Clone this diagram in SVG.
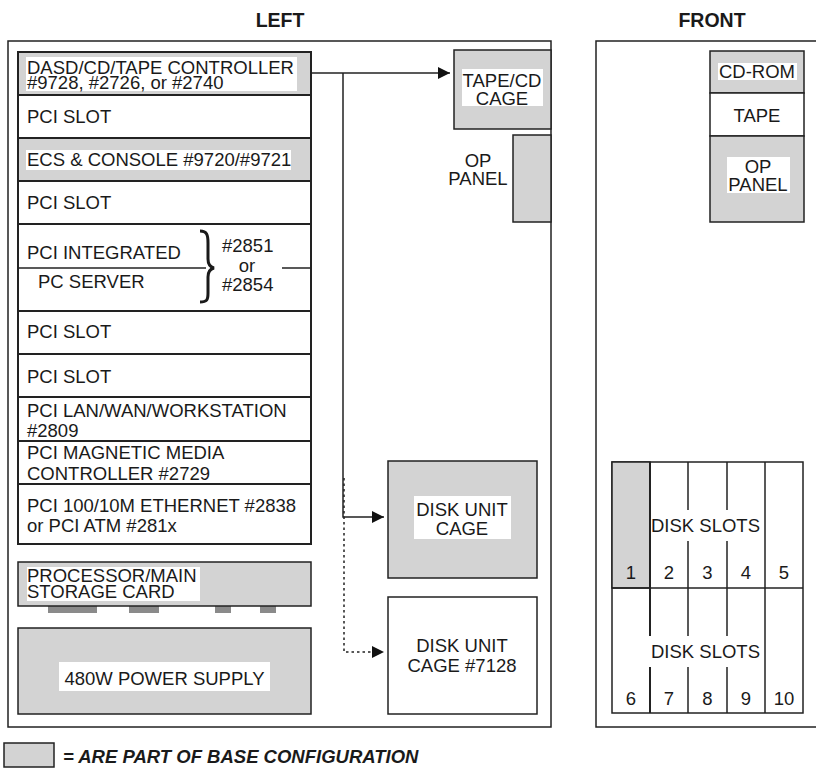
<svg xmlns="http://www.w3.org/2000/svg" width="816" height="768" viewBox="0 0 816 768">
<defs>
<style>
text { font-family: "Liberation Sans", Arial, sans-serif; font-size: 18.5px; fill: #1a1a1a; }
.title { font-weight: bold; font-size: 19.5px; text-anchor: middle; }
.mid { text-anchor: middle; }
.box { stroke: #222; stroke-width: 1.5; fill: #fff; }
.gray { stroke: #222; stroke-width: 1.5; fill: #d3d3d3; }
.row { stroke: #222; stroke-width: 2; fill: #fff; }
.rowg { stroke: #222; stroke-width: 2; fill: #d3d3d3; }
.bg { fill: #fff; stroke: none; }
.ln { stroke: #222; stroke-width: 1.5; fill: none; }
.conn { stroke: #222; stroke-width: 1.5; fill: none; }
.dot { stroke-dasharray: 2.5 3; }
.tab { fill: #8a8a8a; }
.legend { font-weight: bold; font-style: italic; }
</style>
<marker id="arr" viewBox="0 0 10 10" refX="10" refY="5" markerWidth="13" markerHeight="12" markerUnits="userSpaceOnUse" orient="auto">
<path d="M0,0 L10,5 L0,10 z" fill="#111"/>
</marker>
</defs>

<g id="titles">
<text class="title" x="280" y="27">LEFT</text>
<text class="title" x="712" y="27">FRONT</text>
</g>

<g id="left-frame"><rect class="box" x="8" y="41" width="543" height="686"/></g>
<g id="front-frame"><rect class="box" x="596" y="41" width="240" height="686"/></g>

<g id="slot-dasd">
<rect class="rowg" x="18" y="52" width="293" height="43"/>
<rect class="bg" x="26" y="57" width="271" height="34"/>
<text x="27" y="74">DASD/CD/TAPE CONTROLLER</text>
<text x="27" y="89">#9728, #2726, or #2740</text>
</g>
<g id="slot-2">
<rect class="row" x="18" y="95" width="293" height="43"/>
<text x="27" y="123">PCI SLOT</text>
</g>
<g id="slot-ecs">
<rect class="rowg" x="18" y="138" width="293" height="43"/>
<rect class="bg" x="26" y="150" width="265" height="20"/>
<text x="27" y="166">ECS &amp; CONSOLE #9720/#9721</text>
</g>
<g id="slot-4">
<rect class="row" x="18" y="181" width="293" height="43"/>
<text x="27" y="209">PCI SLOT</text>
</g>
<g id="slot-ipcs">
<rect class="row" x="18" y="224" width="293" height="87"/>
<line class="ln" x1="18" y1="268" x2="206" y2="268"/>
<line class="ln" x1="282" y1="268" x2="311" y2="268"/>
<path d="M200,231 C207,231 208,235 208,243 L208,259 C208,264 210,267 214,268 C210,269 208,272 208,277 L208,293 C208,300 207,302 200,302" fill="none" stroke="#1a1a1a" stroke-width="3"/>
<text x="27" y="259">PCI INTEGRATED</text>
<text x="38" y="288">PC SERVER</text>
<text x="222" y="252">#2851</text>
<text class="mid" x="247" y="272">or</text>
<text x="222" y="291">#2854</text>
</g>
<g id="slot-6">
<rect class="row" x="18" y="311" width="293" height="43"/>
<text x="27" y="338">PCI SLOT</text>
</g>
<g id="slot-7">
<rect class="row" x="18" y="354" width="293" height="43"/>
<text x="27" y="383">PCI SLOT</text>
</g>
<g id="slot-lan">
<rect class="row" x="18" y="397" width="293" height="44"/>
<text x="27" y="417">PCI LAN/WAN/WORKSTATION</text>
<text x="27" y="437">#2809</text>
</g>
<g id="slot-mm">
<rect class="row" x="18" y="441" width="293" height="43"/>
<text x="27" y="459">PCI MAGNETIC MEDIA</text>
<text x="27" y="480">CONTROLLER #2729</text>
</g>
<g id="slot-eth">
<rect class="row" x="18" y="484" width="293" height="60"/>
<text x="27" y="512">PCI 100/10M ETHERNET #2838</text>
<text x="27" y="532">or PCI ATM #281x</text>
</g>

<g id="processor">
<rect class="tab" x="48" y="606" width="49" height="7"/>
<rect class="tab" x="129" y="606" width="30" height="7"/>
<rect class="tab" x="215" y="606" width="16" height="7"/>
<rect class="tab" x="260" y="606" width="16" height="7"/>
<rect class="gray" x="18" y="562" width="293" height="44"/>
<rect class="bg" x="27" y="567" width="173" height="34"/>
<text x="27" y="582">PROCESSOR/MAIN</text>
<text x="27" y="598">STORAGE CARD</text>
</g>

<g id="power">
<rect class="gray" x="18" y="628" width="293" height="86"/>
<rect class="bg" x="59" y="662" width="211" height="29"/>
<text class="mid" x="164.5" y="685">480W POWER SUPPLY</text>
</g>

<g id="tape-cd-cage">
<rect class="gray" x="454" y="50" width="97" height="79"/>
<rect class="bg" x="462" y="69" width="81" height="37"/>
<text class="mid" x="502" y="87">TAPE/CD</text>
<text class="mid" x="502" y="105">CAGE</text>
</g>

<g id="op-panel-left">
<rect class="gray" x="513" y="135" width="38" height="87"/>
<text class="mid" x="478" y="167">OP</text>
<text class="mid" x="478" y="185">PANEL</text>
</g>

<g id="disk-cage">
<rect class="gray" x="388" y="461" width="149" height="117"/>
<rect class="bg" x="414" y="496" width="97" height="43"/>
<text class="mid" x="462" y="516">DISK UNIT</text>
<text class="mid" x="462" y="535">CAGE</text>
</g>

<g id="disk-cage-7128">
<rect class="box" x="388" y="597" width="149" height="117"/>
<text class="mid" x="462" y="652">DISK UNIT</text>
<text class="mid" x="462" y="672">CAGE #7128</text>
</g>

<g id="connectors">
<path class="conn" d="M311,73 H450" marker-end="url(#arr)"/>
<path class="conn" d="M343,73 V517 H384" marker-end="url(#arr)"/>
<path class="conn dot" d="M344,478 V652 H384" marker-end="url(#arr)"/>
</g>

<g id="front-cdrom">
<rect class="gray" x="710" y="51" width="94" height="42"/>
<rect class="bg" x="718" y="63" width="79" height="17"/>
<text class="mid" x="757" y="78">CD-ROM</text>
</g>
<g id="front-tape">
<rect class="box" x="710" y="93" width="94" height="43"/>
<text class="mid" x="757" y="122">TAPE</text>
</g>
<g id="front-op-panel">
<rect class="gray" x="710" y="136" width="94" height="86"/>
<rect class="bg" x="727" y="157" width="63" height="36"/>
<text class="mid" x="758" y="173">OP</text>
<text class="mid" x="758" y="191">PANEL</text>
</g>

<g id="disk-slots">
<rect class="box" x="612" y="462" width="191" height="251"/>
<rect class="gray" x="612" y="462" width="38" height="126"/>
<line class="ln" x1="612" y1="588" x2="803" y2="588"/>
<line stroke="#222" stroke-width="2" x1="650" y1="462" x2="650" y2="588"/>
<line class="ln" x1="688" y1="462" x2="688" y2="510"/>
<line class="ln" x1="688" y1="541" x2="688" y2="588"/>
<line class="ln" x1="727" y1="462" x2="727" y2="510"/>
<line class="ln" x1="727" y1="541" x2="727" y2="588"/>
<line class="ln" x1="765" y1="462" x2="765" y2="588"/>
<line stroke="#222" stroke-width="2" x1="650" y1="588" x2="650" y2="636"/>
<line stroke="#222" stroke-width="2" x1="650" y1="667" x2="650" y2="713"/>
<line class="ln" x1="688" y1="588" x2="688" y2="636"/>
<line class="ln" x1="688" y1="667" x2="688" y2="713"/>
<line class="ln" x1="727" y1="588" x2="727" y2="636"/>
<line class="ln" x1="727" y1="667" x2="727" y2="713"/>
<line class="ln" x1="765" y1="588" x2="765" y2="713"/>
<text x="651" y="532">DISK SLOTS</text>
<text x="651" y="658">DISK SLOTS</text>
<text class="mid" x="631" y="579">1</text>
<text class="mid" x="669" y="579">2</text>
<text class="mid" x="707.5" y="579">3</text>
<text class="mid" x="746" y="579">4</text>
<text class="mid" x="784" y="579">5</text>
<text class="mid" x="631" y="705">6</text>
<text class="mid" x="669" y="705">7</text>
<text class="mid" x="707.5" y="705">8</text>
<text class="mid" x="746" y="705">9</text>
<text class="mid" x="784" y="705">10</text>
</g>

<g id="legend">
<rect class="gray" x="4" y="743" width="50" height="24"/>
<text class="legend" x="63" y="763">= ARE PART OF BASE CONFIGURATION</text>
</g>
</svg>
